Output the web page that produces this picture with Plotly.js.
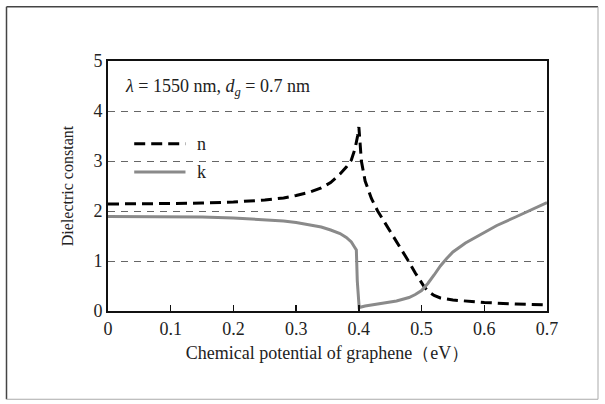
<!DOCTYPE html>
<html>
<head>
<meta charset="utf-8">
<script src="https://cdn.plot.ly/plotly-3.0.1.min.js"></script>
<style>html,body{margin:0;padding:0;background:#fff;}#chart{width:605px;height:404px;}</style>
</head>
<body>
<div id="chart"></div>
<script>
// Chemical potential (eV) for n curve
const muN = [0, 0.05, 0.1, 0.15, 0.2, 0.25, 0.28, 0.3, 0.32, 0.34, 0.355, 0.37, 0.38, 0.388, 0.394, 0.398, 0.4, 0.402, 0.404, 0.41, 0.42, 0.43, 0.44, 0.45, 0.46, 0.47, 0.48, 0.49, 0.5, 0.505, 0.51, 0.52, 0.53, 0.55, 0.58, 0.6, 0.65, 0.7];
const nVals = [2.14, 2.14, 2.15, 2.16, 2.18, 2.22, 2.26, 2.31, 2.37, 2.46, 2.57, 2.74, 2.88, 3.02, 3.25, 3.5, 3.68, 3.35, 3.0, 2.6, 2.25, 2.0, 1.8, 1.6, 1.4, 1.2, 0.98, 0.76, 0.56, 0.47, 0.40, 0.31, 0.26, 0.22, 0.19, 0.17, 0.14, 0.12];
// Chemical potential (eV) for k curve
const muK = [0, 0.05, 0.1, 0.15, 0.2, 0.25, 0.28, 0.3, 0.32, 0.34, 0.355, 0.37, 0.38, 0.388, 0.393, 0.396, 0.3975, 0.4005, 0.41, 0.42, 0.44, 0.46, 0.48, 0.49, 0.5, 0.51, 0.52, 0.53, 0.54, 0.55, 0.57, 0.6, 0.62, 0.65, 0.67, 0.7];
const kVals = [1.89, 1.89, 1.89, 1.88, 1.86, 1.83, 1.80, 1.77, 1.73, 1.68, 1.62, 1.55, 1.47, 1.38, 1.28, 1.22, 0.6, 0.07, 0.10, 0.12, 0.16, 0.20, 0.27, 0.33, 0.41, 0.55, 0.72, 0.90, 1.05, 1.18, 1.36, 1.58, 1.71, 1.88, 1.99, 2.17];
const xTicks = [0, 0.1, 0.2, 0.3, 0.4, 0.5, 0.6, 0.7];
const xTickText = ['0', '0.1', '0.2', '0.3', '0.4', '0.5', '0.6', '0.7'];
const yTicks = [0, 1, 2, 3, 4, 5];
const seriesNames = ['n', 'k'];

const FONT = '"Liberation Serif", "DejaVu Serif", "Times New Roman", serif';
const TXT = '#222';
const nStyle = {color: '#000000', width: 3, dash: '11px,6px'};
const kStyle = {color: '#8a8a8a', width: 3};

const traces = [
  {x: muN, y: nVals, type: 'scatter', mode: 'lines', name: seriesNames[0], line: nStyle, showlegend: false, hoverinfo: 'skip'},
  {x: muK, y: kVals, type: 'scatter', mode: 'lines', name: seriesNames[1], line: kStyle, showlegend: false, hoverinfo: 'skip'}
];

const layout = {
  width: 605, height: 404,
  margin: {l: 108, r: 58, t: 61, b: 93, pad: 0},
  paper_bgcolor: '#ffffff', plot_bgcolor: '#ffffff',
  font: {family: FONT, size: 17, color: TXT},
  xaxis: {
    range: [0, 0.7], tickvals: xTicks, ticktext: xTickText,
    ticks: 'inside', ticklen: 6, tickwidth: 1.5, tickcolor: '#111',
    showline: true, linecolor: '#111', linewidth: 2, mirror: true,
    showgrid: false, zeroline: false, fixedrange: true,
    tickfont: {family: FONT, size: 18, color: TXT},
    title: {text: 'Chemical potential of graphene（eV）', font: {family: FONT, size: 18, color: TXT}, standoff: 9}
  },
  yaxis: {
    range: [0, 5], tickvals: yTicks, ticks: '',
    showline: true, linecolor: '#111', linewidth: 2, mirror: true,
    showgrid: true, gridcolor: '#666', gridwidth: 1, griddash: '7px,6px',
    zeroline: false, fixedrange: true,
    tickfont: {family: FONT, size: 18, color: TXT},
    title: {text: 'Dielectric constant', font: {family: FONT, size: 16, color: TXT}, standoff: 16}
  },
  shapes: [
    {type: 'line', xref: 'paper', yref: 'paper', x0: -0.2312, x1: 1.1162, y0: 1.2168, y1: 1.2168, line: {color: '#444', width: 1.5}},
    {type: 'line', xref: 'paper', yref: 'paper', x0: -0.2312, x1: -0.2312, y0: 1.2168, y1: -0.353, line: {color: '#444', width: 1.5}},
    {type: 'line', xref: 'paper', yref: 'paper', x0: 1.1162, x1: 1.1162, y0: 1.2168, y1: -0.353, line: {color: '#aaa', width: 1}},
    {type: 'line', xref: 'paper', yref: 'paper', x0: -0.2312, x1: 1.1162, y0: -0.353, y1: -0.353, line: {color: '#aaa', width: 1}},
    {type: 'line', xref: 'paper', yref: 'paper', x0: 0.0597, x1: 0.1765, y0: 0.669, y1: 0.669, line: nStyle},
    {type: 'line', xref: 'paper', yref: 'paper', x0: 0.0597, x1: 0.1765, y0: 0.556, y1: 0.556, line: kStyle}
  ],
  annotations: [
    {xref: 'paper', yref: 'paper', x: 0.0342, y: 0.895, xanchor: 'left', yanchor: 'middle', showarrow: false,
     text: '<i>λ</i> = 1550 nm, <i>d</i><sub><i>g</i></sub> = 0.7 nm', font: {family: FONT, size: 18, color: TXT}},
    {xref: 'paper', yref: 'paper', x: 0.198, y: 0.669, xanchor: 'left', yanchor: 'middle', showarrow: false,
     text: seriesNames[0], font: {family: FONT, size: 18, color: TXT}},
    {xref: 'paper', yref: 'paper', x: 0.198, y: 0.556, xanchor: 'left', yanchor: 'middle', showarrow: false,
     text: seriesNames[1], font: {family: FONT, size: 18, color: TXT}}
  ]
};

Plotly.newPlot('chart', traces, layout, {displayModeBar: false, staticPlot: true});
</script>
</body>
</html>
